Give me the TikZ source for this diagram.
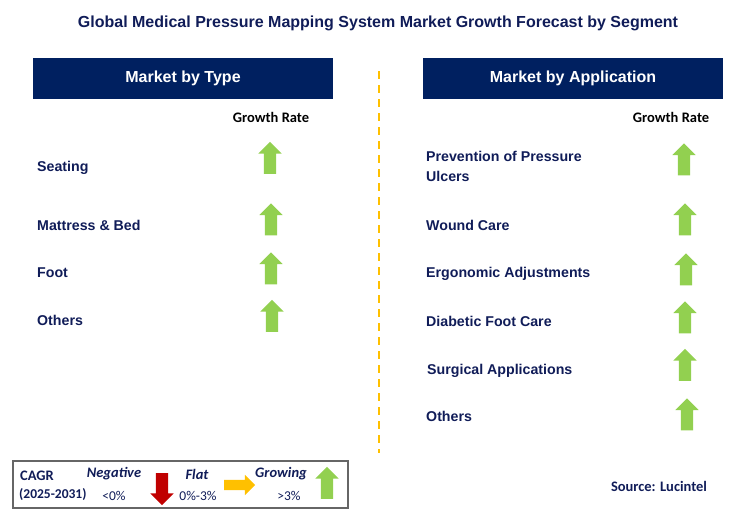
\documentclass[tikz,border=0pt]{standalone}
\usepackage{fontspec}
\setmainfont{Liberation Sans}
\newfontfamily\calibri{Carlito}
\usetikzlibrary{shapes.arrows}

\definecolor{navy}{RGB}{0,32,96}
\definecolor{inknavy}{RGB}{16,28,88}
\definecolor{upgreen}{RGB}{146,208,80}
\definecolor{downred}{RGB}{192,0,0}
\definecolor{flatgold}{RGB}{255,192,0}

\tikzset{
  header/.style={fill=navy,text=white,minimum width=300pt,minimum height=41pt,
    inner sep=0pt,font=\fontsize{16}{19}\selectfont\bfseries},
  item/.style={anchor=base west,text=inknavy,inner sep=0pt,align=left,
    font=\fontsize{14.2}{20}\selectfont\bfseries},
  rate/.style={text=black,inner sep=0pt,font=\calibri\fontsize{14.5}{17}\selectfont\bfseries},
  arrowbox/.style={single arrow,minimum height=32pt,inner xsep=0pt,inner ysep=6pt,
    single arrow head extend=5.5pt},
  up/.style={arrowbox,fill=upgreen,rotate=90},
  down/.style={arrowbox,fill=downred,rotate=-90},
  flat/.style={arrowbox,fill=flatgold,minimum height=31pt,inner ysep=5pt,
    single arrow head extend=5pt},
  legendhead/.style={text=inknavy,inner sep=0pt,font=\calibri\fontsize{14.5}{17}\selectfont\bfseries\itshape},
  legendval/.style={text=inknavy,inner sep=0pt,font=\calibri\fontsize{13.5}{16}\selectfont}
}

\begin{document}
\begin{tikzpicture}[x=1pt,y=-1pt]
  \useasboundingbox (0,0) rectangle (738,515);

  \node[text=inknavy,font=\fontsize{16}{19}\selectfont\bfseries] (title) at (378,23.5)
    {Global Medical Pressure Mapping System Market Growth Forecast by Segment};

  \node[header] (typehead) at (183,78) {Market by Type};
  \node[header] (apphead) at (573,78) {Market by Application};
  \draw[flatgold,line width=2.5pt,dash pattern=on 8pt off 6pt] (379,71) -- (379,453);

  % market by type
  \node[rate] (typerate) at (271,117) {Growth Rate};
  \node[item] (seating) at (37,171) {Seating};
  \node[item] (mattress) at (37,230) {Mattress \& Bed};
  \node[item] (foot) at (37,277.5) {Foot};
  \node[item] (typeothers) at (37,325.5) {Others};
  \node[up] (seatingup) at (270,161) {};
  \node[up] (mattressup) at (271,222.5) {};
  \node[up] (footup) at (271,271.5) {};
  \node[up] (typeothersup) at (272,319) {};

  % market by application
  \node[rate] (apprate) at (671,117) {Growth Rate};
  \node[item] (ulcers) at (426,181) {Prevention of Pressure\\Ulcers};
  \node[item] (wound) at (426,230) {Wound Care};
  \node[item] (ergo) at (426,277.5) {Ergonomic Adjustments};
  \node[item] (diabetic) at (426,326) {Diabetic Foot Care};
  \node[item] (surgical) at (427,374) {Surgical Applications};
  \node[item] (appothers) at (426,421.5) {Others};
  \node[up] (ulcersup) at (684,162.5) {};
  \node[up] (woundup) at (685,222.5) {};
  \node[up] (ergoup) at (686,272.5) {};
  \node[up] (diabeticup) at (685,320.5) {};
  \node[up] (surgicalup) at (685,368) {};
  \node[up] (appothersup) at (687,417.5) {};

  % legend
  \draw[gray!80!black,line width=1.3pt] (13,461) rectangle (348,508);
  \node[legendval,anchor=west,font=\calibri\fontsize{14.5}{17}\selectfont\bfseries] (cagr) at (20,476) {CAGR};
  \node[legendval,anchor=west,font=\calibri\fontsize{13.5}{16}\selectfont\bfseries] (years) at (19,494) {(2025-2031)};
  \node[legendhead] (negative) at (114,474) {Negative};
  \node[legendval] (negval) at (114,496) {<0\%};
  \node[down] (negarrow) at (162,486) {};
  \node[legendhead] (flattext) at (197,474) {Flat};
  \node[legendval] (flatval) at (198,496) {0\%-3\%};
  \node[flat] (flatarrow) at (237,485) {};
  \node[legendhead] (growing) at (281,474) {Growing};
  \node[legendval] (growval) at (289,496) {>3\%};
  \node[up] (growarrow) at (327,486) {};

  \node[rate,text=inknavy] (source) at (659,486) {Source: Lucintel};
\end{tikzpicture}
\end{document}
